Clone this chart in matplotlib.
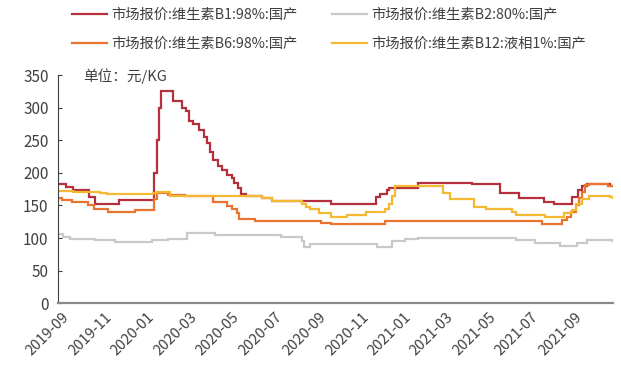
import matplotlib
matplotlib.use("Agg")
import matplotlib.pyplot as plt
import matplotlib.dates as mdates
import pandas as pd

plt.rcParams['font.family'] = ['Noto Sans CJK SC', 'DejaVu Sans']

# Price change points (date, yuan/kg); each price holds until the next date
b1_dates = ["2019-08-27", "2019-09-07", "2019-09-17", "2019-10-10", "2019-10-18",
            "2019-11-21", "2020-01-09", "2020-01-11", "2020-01-14", "2020-01-17",
            "2020-01-20", "2020-02-06", "2020-02-19", "2020-02-25", "2020-02-29",
            "2020-03-06", "2020-03-14", "2020-03-21", "2020-03-26", "2020-03-30",
            "2020-04-03", "2020-04-10", "2020-04-16", "2020-04-23", "2020-04-30",
            "2020-05-04", "2020-05-09", "2020-05-14", "2020-05-20", "2020-06-12",
            "2020-06-26", "2020-09-18", "2020-11-22", "2020-11-27", "2020-12-07",
            "2020-12-11", "2021-01-20", "2021-04-08", "2021-05-17", "2021-06-13",
            "2021-07-19", "2021-08-02", "2021-08-28", "2021-09-05", "2021-09-11",
            "2021-09-19", "2021-10-21", "2021-10-26"]
b1_values = [183, 178, 173, 163, 152,
             158, 158, 200, 250, 300,
             325, 310, 300, 295, 280,
             275, 265, 255, 245, 232,
             220, 210, 204, 197, 192,
             184, 176, 167, 165, 162,
             157, 152, 163, 168, 174,
             176, 185, 183, 169, 161,
             156, 152, 163, 174, 180,
             183, 180, 180]

b2_dates = ["2019-08-27", "2019-09-03", "2019-09-13", "2019-10-18", "2019-11-16",
            "2020-01-08", "2020-01-31", "2020-02-27", "2020-04-06", "2020-07-10",
            "2020-08-08", "2020-08-11", "2020-08-20", "2020-11-23", "2020-12-14",
            "2021-01-02", "2021-01-20", "2021-06-10", "2021-07-06", "2021-08-11",
            "2021-09-04", "2021-09-18", "2021-10-24", "2021-10-26"]
b2_values = [106, 102, 99, 97, 94,
             97, 99, 108, 104, 102,
             95, 86, 91, 87, 96,
             98, 100, 97, 93, 88,
             92, 97, 95, 95]

b6_dates = ["2019-08-27", "2019-09-01", "2019-09-16", "2019-10-09", "2019-10-17",
            "2019-11-06", "2019-12-14", "2020-01-08", "2020-01-11", "2020-01-14",
            "2020-01-31", "2020-02-24", "2020-04-03", "2020-04-24", "2020-05-01",
            "2020-05-07", "2020-05-11", "2020-06-02", "2020-09-05", "2020-09-18",
            "2020-12-04", "2021-07-17", "2021-08-14", "2021-08-21", "2021-08-27",
            "2021-09-03", "2021-09-07", "2021-09-12", "2021-09-16", "2021-09-22",
            "2021-10-19", "2021-10-26"]
b6_values = [162, 159, 156, 150, 145,
             140, 143, 143, 160, 169,
             166, 164, 156, 149, 144,
             138, 130, 126, 123, 121,
             126, 121, 127, 133, 140,
             150, 161, 171, 181, 183,
             180, 180]

b12_dates = ["2019-08-27", "2019-09-17", "2019-10-25", "2019-11-04", "2020-01-09",
             "2020-01-14", "2020-02-02", "2020-05-09", "2020-06-12", "2020-06-26",
             "2020-08-08", "2020-08-14", "2020-08-20", "2020-09-01", "2020-09-18",
             "2020-10-11", "2020-11-08", "2020-12-04", "2020-12-10", "2020-12-14",
             "2020-12-19", "2021-02-25", "2021-03-07", "2021-04-10", "2021-04-27",
             "2021-06-03", "2021-06-10", "2021-07-20", "2021-08-17", "2021-08-28",
             "2021-09-03", "2021-09-11", "2021-09-22", "2021-10-21", "2021-10-26"]
b12_values = [172, 171, 169, 167, 169,
              170, 165, 164, 161, 157,
              153, 148, 144, 139, 132,
              136, 140, 145, 153, 165,
              180, 169, 160, 148, 144,
              140, 136, 133, 138, 143,
              153, 160, 165, 163, 162]

series_names = ["市场报价:维生素B1:98%:国产", "市场报价:维生素B2:80%:国产",
                "市场报价:维生素B6:98%:国产", "市场报价:维生素B12:液相1%:国产"]
series_colors = ["#B4303D", "#C9C9C9", "#E8742F", "#F4B933"]
y_ticks = [0, 50, 100, 150, 200, 250, 300, 350]
x_tick_dates = ["2019-09-01", "2019-11-01", "2020-01-01", "2020-03-01", "2020-05-01",
                "2020-07-01", "2020-09-01", "2020-11-01", "2021-01-01", "2021-03-01",
                "2021-05-01", "2021-07-01", "2021-09-01"]
unit_label = "单位：元/KG"

W, H = 621, 367
fig = plt.figure(figsize=(W / 100, H / 100), dpi=100)
ax = fig.add_axes([58.3 / W, 1 - 303.3 / H, (613.3 - 58.3) / W, (303.3 - 75) / H])

all_dates = [b1_dates, b2_dates, b6_dates, b12_dates]
all_values = [b1_values, b2_values, b6_values, b12_values]
handles = []
for d, v, name, c in zip(all_dates, all_values, series_names, series_colors):
    line, = ax.step(pd.to_datetime(d), v, where="post", color=c, lw=1.6,
                    label=name, solid_joinstyle="miter")
    handles.append(line)

ax.set_xlim(pd.Timestamp("2019-08-27"), pd.Timestamp("2021-10-26"))
ax.set_ylim(0, 350)
ax.set_yticks(y_ticks)
ax.set_xticks(pd.to_datetime(x_tick_dates))
ax.xaxis.set_major_formatter(mdates.DateFormatter("%Y-%m"))

for s in ["top", "right"]:
    ax.spines[s].set_visible(False)
ax.spines["left"].set_color("#404040")
ax.spines["left"].set_linewidth(0.8)
ax.spines["bottom"].set_color("#898989")
ax.spines["bottom"].set_linewidth(1.6)

ax.tick_params(axis="y", direction="in", length=3, width=0.8, color="#404040",
               pad=7, labelsize=11, labelcolor="#404040")
ax.tick_params(axis="x", length=0, pad=5, labelsize=10.5, labelcolor="#404040")
for lab in ax.get_xticklabels():
    lab.set_rotation(45)
    lab.set_ha("right")
    lab.set_va("top")
    lab.set_rotation_mode("anchor")

fig.text(83 / W, 1 - 76 / H, unit_label, fontsize=10.5, color="#404040",
         ha="left", va="center")

# two legend columns laid out side by side
leg_kw = dict(frameon=False, fontsize=10.3, handlelength=2.45, handletextpad=0.3,
              labelspacing=1.05, borderpad=0, borderaxespad=0, loc="upper left",
              labelcolor="#404040")
fig.legend([handles[0], handles[2]], [series_names[0], series_names[2]],
           bbox_to_anchor=(72 / W, 1 - 8 / H), **leg_kw)
fig.legend([handles[1], handles[3]], [series_names[1], series_names[3]],
           bbox_to_anchor=(332 / W, 1 - 8 / H), **leg_kw)

fig.savefig("out.png", dpi=100)
